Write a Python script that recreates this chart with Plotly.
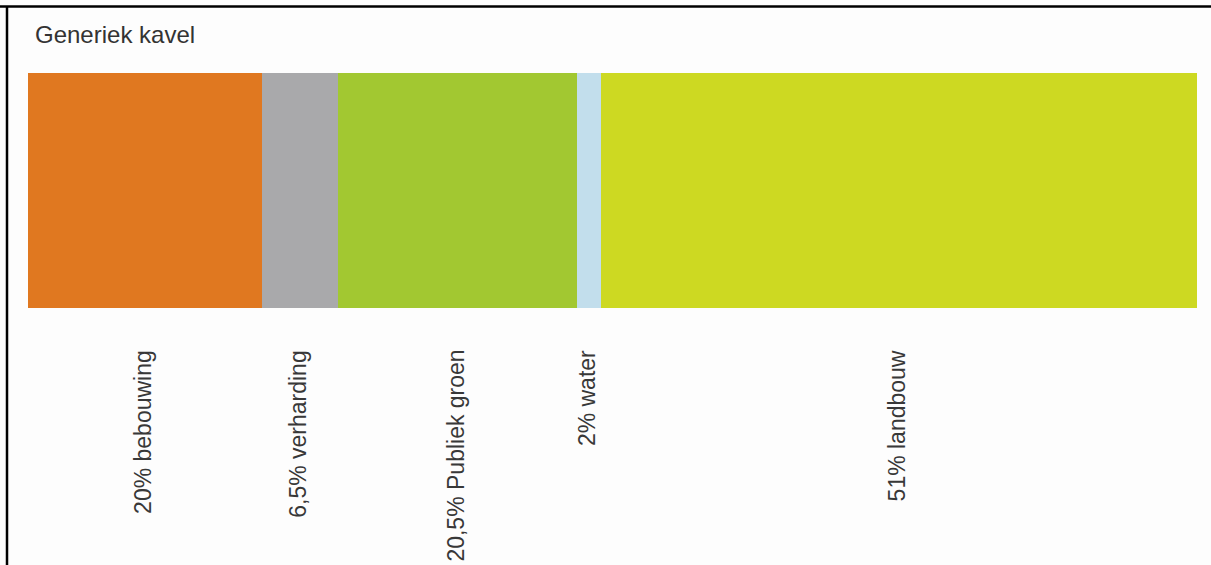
import plotly.graph_objects as go

categories = ["bebouwing", "verharding", "Publiek groen", "water", "landbouw"]
values = [20, 6.5, 20.5, 2, 51]
labels = ["20% bebouwing", "6,5% verharding", "20,5% Publiek groen", "2% water", "51% landbouw"]
colors = ["#E07820", "#A9A9AB", "#A2C831", "#C2DEEC", "#CDD922"]
title_text = "Generiek kavel"

W, H = 1211, 565
FONT = "Liberation Sans, Arial, sans-serif"

fig = go.Figure()
for cat, v, c in zip(categories, values, colors):
    fig.add_trace(go.Bar(
        x=[v], y=["kavel"], orientation="h", name=cat,
        marker=dict(color=c, line=dict(width=0)),
        hoverinfo="skip", showlegend=False,
    ))

annotations = []
cum = 0
for v, lab in zip(values, labels):
    mid = cum + v / 2
    cum += v
    annotations.append(dict(
        x=mid, xref="x", y=1 - 348 / H, yref="paper",
        text=lab, textangle=-90, showarrow=False,
        xanchor="center", yanchor="top", xshift=-2,
        font=dict(family=FONT, size=23, color="#383838"),
    ))
annotations.append(dict(
    x=33 / W, xref="paper", y=1 - 35 / H, yref="paper",
    text=title_text, showarrow=False, xanchor="left", yanchor="middle",
    font=dict(family=FONT, size=24, color="#333333"),
))

fig.update_layout(
    width=W, height=H,
    margin=dict(l=0, r=0, t=0, b=0),
    barmode="stack", bargap=0,
    paper_bgcolor="#fdfdfd", plot_bgcolor="#fdfdfd",
    xaxis=dict(domain=[28 / W, 1197 / W], range=[0, 100], visible=False, fixedrange=True),
    yaxis=dict(domain=[1 - 308 / H, 1 - 73 / H], range=[-0.5, 0.5], visible=False, fixedrange=True),
    annotations=annotations,
    shapes=[
        dict(type="line", xref="paper", yref="paper", x0=0, x1=1, y0=1 - 6.5 / H, y1=1 - 6.5 / H,
             line=dict(color="black", width=2.5)),
        dict(type="line", xref="paper", yref="paper", x0=7 / W, x1=7 / W, y0=0, y1=1 - 6 / H,
             line=dict(color="black", width=2.5)),
    ],
)

fig.write_html(
    "out.html",
    config={"displayModeBar": False},
    post_script=(
        "var s=document.createElement('style');"
        "s.textContent='::-webkit-scrollbar{display:none;width:0;height:0}"
        "html,body{margin:0;padding:0;overflow:hidden;scrollbar-width:none;}';"
        "document.head.appendChild(s);"
    ),
)
